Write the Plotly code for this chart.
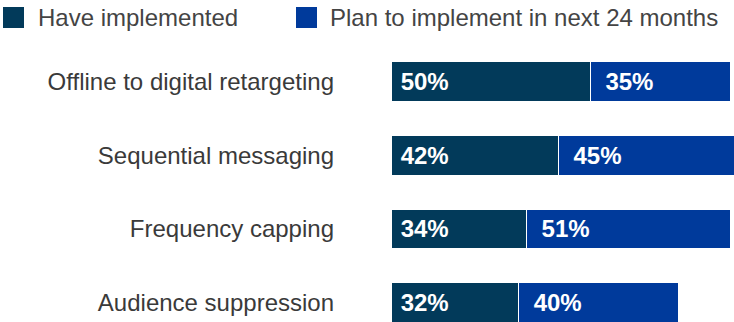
import plotly.graph_objects as go

categories = ["Offline to digital retargeting", "Sequential messaging",
              "Frequency capping", "Audience suppression"]
have_implemented = [50, 42, 34, 32]
plan_to_implement = [35, 45, 51, 40]
series_names = ["Have implemented", "Plan to implement in next 24 months"]
colors = ["#023a5a", "#003a9b"]

W, H = 734, 322
ML, MR, MT, MB = 391, 0, 45, 0
PW, PH = W - ML - MR, H - MT - MB

def px_x(px):
    return (px - ML) / PW

def px_y(py):
    return 1 - (py - MT) / PH

font = "Liberation Sans, Arial, Helvetica, sans-serif"

fig = go.Figure()
pads = ["\u00a0", "\u2002"]
for name, vals, col, pad in zip(series_names, [have_implemented, plan_to_implement], colors, pads):
    fig.add_trace(go.Bar(
        y=categories, x=vals, name=name, orientation="h",
        marker=dict(color=col, line=dict(color="white", width=1)),
        width=0.54,
        text=[f"{pad}{v}%" for v in vals],
        textposition="inside", insidetextanchor="start",
        textfont=dict(color="white", size=24, family=font, weight="bold"),
        hoverinfo="skip", showlegend=False,
    ))

# legend built manually
legend_items = [(3, 36), (296, 328)]
shapes, annotations = [], []
for (sx, tx), name, col in zip(legend_items, series_names, colors):
    shapes.append(dict(type="rect", xref="paper", yref="paper",
                       x0=px_x(sx), x1=px_x(sx + 21), y0=px_y(28), y1=px_y(7),
                       fillcolor=col, line=dict(width=0)))
    annotations.append(dict(xref="paper", yref="paper", x=px_x(tx), y=px_y(17.5),
                            xanchor="left", yanchor="middle", showarrow=False,
                            text=name, font=dict(size=24, color="#444444", family=font)))

fig.update_layout(
    width=W, height=H, margin=dict(l=ML, r=MR, t=MT, b=MB),
    barmode="stack", paper_bgcolor="white", plot_bgcolor="white",
    shapes=shapes, annotations=annotations,
    xaxis=dict(range=[0, 86], visible=False, fixedrange=True),
    yaxis=dict(categoryorder="array", categoryarray=categories,
               range=[3.263, -0.495], showgrid=False, zeroline=False,
               showline=False, ticks="", ticklabelstandoff=56,
               tickfont=dict(size=24, color="#3a3a3a", family=font)),
    font=dict(family=font),
    uniformtext=dict(mode=False),
)
fig.write_html("out.html", config={"displayModeBar": False})
